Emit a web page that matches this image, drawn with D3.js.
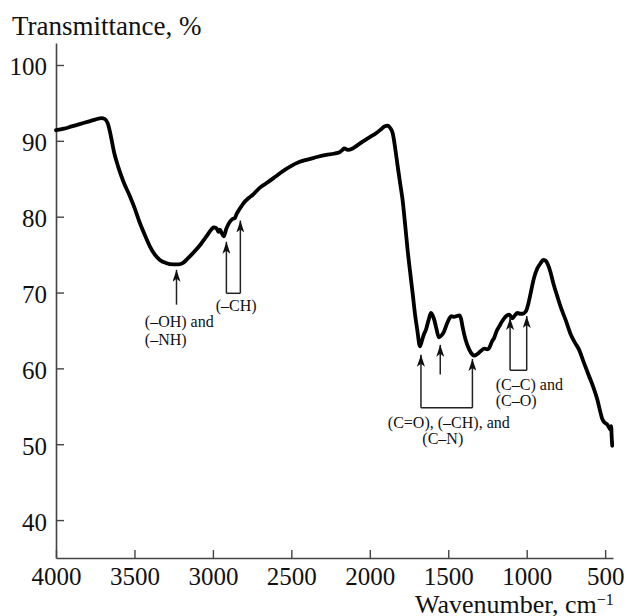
<!DOCTYPE html>
<html><head><meta charset="utf-8">
<script src="https://cdn.jsdelivr.net/npm/d3@7"></script>
<style>
body{margin:0;background:#fff}
svg{display:block}
text{font-family:"Liberation Serif","Times New Roman",serif;fill:#111}
</style>
</head><body><svg id="c" width="627" height="616"></svg>
<script>
const wavenumber = [4000,3950,3900,3850,3800,3750,3710,3690,3670,3650,3630,3604,3570,3529,3500,3466,3430,3402,3370,3338,3300,3254,3220,3190,3160,3127,3080,3041,3010,2995,2978,2965,2955,2945,2931,2915,2893,2875,2861,2848,2830,2808,2770,2745,2702,2660,2600,2554,2500,2450,2405,2350,2278,2230,2193,2175,2162,2140,2109,2080,2045,2000,1960,1930,1907,1885,1870,1854,1838,1822,1806,1791,1775,1759,1743,1727,1711,1695,1685,1680,1670,1655,1642,1625,1610,1600,1589,1575,1560,1545,1526,1510,1495,1480,1462,1445,1430,1418,1409,1390,1367,1345,1335,1315,1292,1270,1250,1239,1220,1208,1190,1176,1160,1144,1125,1112,1100,1091,1075,1059,1040,1027,1006,990,974,955,932,910,895,880,865,850,830,805,780,752,720,690,667,640,603,575,550,530,518,500,487,475,466,462,458,455];
const transmittance = [91.4,91.6,91.9,92.2,92.5,92.8,93.0,92.9,92.3,90.6,88.5,86.6,84.6,82.7,81.2,79.2,77.4,76.1,75.0,74.3,73.9,73.7,73.7,73.9,74.5,75.2,76.3,77.4,78.3,78.6,78.5,78.0,78.3,77.9,77.4,78.4,79.3,79.7,79.8,80.4,81.0,81.7,82.5,82.9,83.8,84.4,85.3,86.0,86.7,87.2,87.5,87.8,88.15,88.3,88.5,88.8,89.0,88.8,89.0,89.4,89.9,90.5,91.0,91.5,91.9,92.0,91.7,91.0,89.0,86.6,84.3,82.2,79.0,75.6,72.7,69.9,67.0,64.7,63.2,62.9,63.5,64.5,65.1,66.4,67.3,67.0,66.4,65.2,64.1,64.3,64.9,65.8,66.5,66.9,66.8,66.9,67.0,66.5,65.5,63.8,62.5,61.8,61.7,61.9,62.3,62.6,62.5,62.7,63.6,64.0,65.0,65.5,66.1,66.6,67.0,67.1,66.8,66.6,67.0,67.3,67.2,67.2,67.5,68.5,70.0,71.8,73.2,73.9,74.3,74.2,73.7,72.8,71.2,69.5,67.9,66.4,64.5,63.3,62.5,61.0,59.0,57.5,55.9,54.2,53.3,52.8,52.6,52.2,51.9,52.4,50.8,49.8];
const xTicks = [4000,3500,3000,2500,2000,1500,1000,500];
const yTicks = [40,50,60,70,80,90,100];
const yTitle = "Transmittance, %";
const xTitle = "Wavenumber, cm";
const xTitleSup = "−1";

// single arrows: wavenumber, tail value, tip value
const singleArrows = [
  {w:3232, from:68.4, to:73.0},
  {w:1551, from:59.2, to:63.1}
];
// bracketed arrow pairs
const bracketArrows = [
  {left:2914, leftTip:76.7, right:2825, rightTip:79.5, base:69.9},
  {left:1674, leftTip:61.8, right:1346, rightTip:61.25, base:54.8},
  {left:1106, leftTip:66.65, right:1000, rightTip:66.9, base:59.75}
];
const annotations = [
  {w:3434, t:65.4, text:"(–OH) and"},
  {w:3434, t:63.1, text:"(–NH)"},
  {w:2982, t:67.6, text:"(–CH)"},
  {w:1885, t:52.2, text:"(C=O), (–CH), and"},
  {w:1665, t:50.0, text:"(C–N)"},
  {w:1197, t:57.2, text:"(C–C) and"},
  {w:1197, t:55.0, text:"(C–O)"}
];

const svg = d3.select("#c");
const x = d3.scaleLinear().domain([4000,450]).range([56,613]);
const y = d3.scaleLinear().domain([35,102.9]).range([558,43]);

const axisColor = "#444";

const gx = svg.append("g").attr("transform","translate(0,558)")
  .call(d3.axisBottom(x).tickValues(xTicks).tickSize(-8).tickSizeOuter(0).tickPadding(9.5).tickFormat(d3.format("d")));
const gy = svg.append("g").attr("transform","translate(56,0)")
  .call(d3.axisLeft(y).tickValues(yTicks).tickSize(-8).tickSizeOuter(0).tickPadding(9).tickFormat(d3.format("d")));
[gx,gy].forEach(g=>{
  g.attr("font-family",'"Liberation Serif","Times New Roman",serif');
  g.select(".domain").attr("stroke",axisColor).attr("stroke-width",1.6);
  g.selectAll(".tick line").attr("stroke",axisColor).attr("stroke-width",1.4);
  g.selectAll(".tick text").attr("font-size",25).attr("fill","#111");
});
gy.selectAll(".tick text").attr("dy","0.4em");

svg.append("text").attr("x",12).attr("y",35).attr("font-size",27).text(yTitle);
const xt = svg.append("text").attr("x",415).attr("y",612.5).attr("font-size",26).text(xTitle);
xt.append("tspan").attr("font-size",16).attr("dy",-8).text(xTitleSup);

// curve
const pts = wavenumber.map((w,i)=>[w,transmittance[i]]);
svg.append("path").datum(pts)
  .attr("fill","none").attr("stroke","#000").attr("stroke-width",3.8)
  .attr("stroke-linejoin","round").attr("stroke-linecap","round")
  .attr("d", d3.line().x(d=>x(d[0])).y(d=>y(d[1])).curve(d3.curveMonotoneX));

// arrows
const defs = svg.append("defs");
defs.append("marker").attr("id","ah").attr("markerUnits","userSpaceOnUse")
  .attr("markerWidth",12).attr("markerHeight",8).attr("refX",12).attr("refY",4)
  .attr("orient","auto").attr("viewBox","0 0 12 8")
  .append("path").attr("d","M0,0 L12,4 L0,8 L3,4 z").attr("fill","#111").attr("stroke","none");

const ag = svg.append("g").attr("stroke","#222").attr("stroke-width",1.5).attr("fill","none");
singleArrows.forEach(a=>{
  ag.append("line").attr("x1",x(a.w)).attr("x2",x(a.w)).attr("y1",y(a.from)).attr("y2",y(a.to))
    .attr("marker-end","url(#ah)");
});
bracketArrows.forEach(b=>{
  ag.append("path").attr("d",`M${x(b.left)},${y(b.base)} H${x(b.right)}`);
  ag.append("line").attr("x1",x(b.left)).attr("x2",x(b.left)).attr("y1",y(b.base)).attr("y2",y(b.leftTip)).attr("marker-end","url(#ah)");
  ag.append("line").attr("x1",x(b.right)).attr("x2",x(b.right)).attr("y1",y(b.base)).attr("y2",y(b.rightTip)).attr("marker-end","url(#ah)");
});

svg.append("g").selectAll("text").data(annotations).join("text")
  .attr("x",d=>x(d.w)).attr("y",d=>y(d.t)).attr("font-size",16).text(d=>d.text);
</script>
</body></html>
